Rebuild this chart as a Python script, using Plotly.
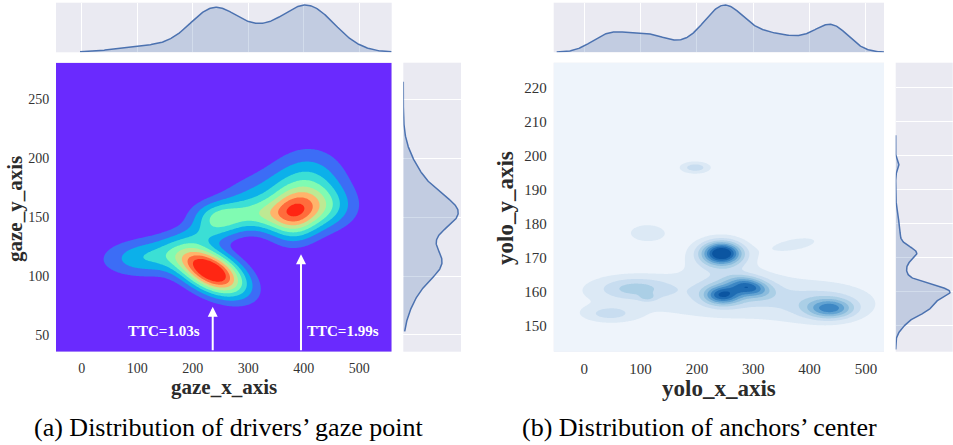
import numpy as np
import plotly.graph_objects as go

# ---------------- data ----------------
# Left panel: drivers' gaze point, 2-D density modes
# columns: centre x, centre y, sd x, sd y, correlation, peak weight
gaze_cx  = [233, 120, 380, 415, 410, 250, 325, 300, 225]
gaze_cy  = [104, 116, 150, 158, 178, 150, 152, 170, 136]
gaze_sx  = [42, 55, 30, 48, 45, 35, 35, 50, 38]
gaze_sy  = [14, 11, 15, 13, 20, 9, 10, 15, 8]
gaze_rho = [-0.5, 0.1, 0.0, 0.0, 0.0, 0.0, 0.0, 0.5, 0.2]
gaze_w   = [1.0, 0.30, 0.40, 0.36, 0.30, 0.36, 0.31, 0.15, 0.19]

# marginal modes for gaze x / gaze y
gaze_x_mc = [120, 240, 318, 405]
gaze_x_ms = [55, 45, 35, 50]
gaze_x_mw = [0.13, 0.93, 0.19, 1.0]
gaze_x_support = [-3, 558]
gaze_y_mc = [152, 178, 113, 90]
gaze_y_ms = [15, 20, 14, 18]
gaze_y_mw = [0.8, 0.3, 0.55, 0.2]
gaze_y_support = [53, 265]

gaze_x_ticks = [0, 100, 200, 300, 400, 500]
gaze_y_ticks = [50, 100, 150, 200, 250]
gaze_x_range = [-46.3, 558.4]
gaze_y_range = [35.8, 281.1]

ttc_labels = ["TTC=1.03s", "TTC=1.99s"]
ttc_arrow_x = [236, 395]
ttc_arrow_tip_y = [74, 118.5]
ttc_label_x = [148, 471]
ttc_label_y = [53, 53]

# Right panel: anchors' centre, 2-D density modes
yolo_cx  = [240, 244, 240, 245, 292, 270, 437, 415, 90, 45, 112, 197, 112, 375]
yolo_cy  = [158, 171.3, 170.5, 159, 161.5, 160, 155, 156.5, 161, 153.5, 158.3, 196.5, 177.3, 174]
yolo_sx  = [250, 24, 45, 22, 25, 55, 28, 55, 45, 30, 10, 20, 32, 35]
yolo_sy  = [7, 2.3, 4.5, 1.9, 2.0, 3.5, 2.0, 3.5, 2.3, 1.6, 0.8, 1.3, 2.5, 1.8]
yolo_rho = [0, 0, 0, 0, -0.3, 0, 0, 0, 0, 0, 0, 0, 0, 0.5]
yolo_w   = [0.13, 0.9, 0.15, 0.6, 0.55, 0.18, 0.5, 0.18, 0.28, 0.2, 0.15, 0.28, 0.16, 0.16]

yolo_x_mc = [40, 110, 200, 245, 300, 375, 440]
yolo_x_ms = [30, 45, 25, 32, 45, 40, 30]
yolo_x_mw = [0.27, 0.36, 0.1, 0.75, 0.35, 0.2, 0.5]
yolo_x_support = [-49, 532]
yolo_y_mc = [160, 155, 171.5, 167, 178, 197, 150.5]
yolo_y_ms = [2.2, 2.2, 1.8, 4, 4, 1.2, 2]
yolo_y_mw = [0.75, 0.45, 0.22, 0.15, 0.06, 0.05, 0.1]
yolo_y_support = [143, 206]

yolo_x_ticks = [0, 100, 200, 300, 400, 500]
yolo_y_ticks = [150, 160, 170, 180, 190, 200, 210, 220]
yolo_x_range = [-54.3, 532.1]
yolo_y_range = [142.35, 227.35]

captions = ["(a) Distribution of drivers\u2019 gaze point", "(b) Distribution of anchors\u2019 center"]
axis_titles = ["gaze_x_axis", "gaze_y_axis", "yolo_x_axis", "yolo_y_axis"]

# ---------------- styles ----------------
rainbow_bands = ['#6A2AFE', '#3C6DF6', '#0CB0EA', '#3BDFD5', '#80FBB2',
                 '#BEE993', '#FFB46B', '#FF6C3C', '#FF2613']
blues_bands = ['#EEF4FB', '#DCE9F5', '#C8DDF0', '#ABCFE6', '#8BBCDD',
               '#62A3D2', '#3D87C4', '#1F6CB3', '#0B55A1']
SERIF = "Liberation Serif"
LINE = '#4C72B0'
FILL = 'rgba(76,114,176,0.25)'
TOP_SCALE = 9.9   # density maximum in units of one contour step


def density2d(xs, ys, cx, cy, sx, sy, rho, w):
    X, Y = np.meshgrid(xs, ys)
    Z = np.zeros_like(X)
    for a, b, s, t, r, k in zip(cx, cy, sx, sy, rho, w):
        dx = (X - a) / s
        dy = (Y - b) / t
        q = (dx * dx - 2 * r * dx * dy + dy * dy) / (1 - r * r)
        Z += k * np.exp(-0.5 * q)
    return Z / Z.max() * TOP_SCALE


def density1d(v, c, s, w):
    d = np.zeros_like(v)
    for a, b, k in zip(c, s, w):
        d += k * np.exp(-0.5 * ((v - a) / b) ** 2)
    return d / d.max()


fig = go.Figure()

W, H = 953, 445
def px_dom(a, b, total, flip=False):
    if flip:
        return [1 - b / total, 1 - a / total]
    return [a / total, b / total]

L_x = px_dom(56, 391.7, W); L_y = px_dom(62.7, 351.7, H, True)
T_y = px_dom(2.7, 52.3, H, True)
LR_x = px_dom(403.3, 461, W)
R_x = px_dom(553.7, 884, W)
RR_x = px_dom(895.7, 952.7, W)


def add_panel(idx, cx, cy, sx, sy, rho, w, xr, yr, bands,
              xmc, xms, xmw, xsup, ymc, yms, ymw, ysup):
    xs = np.linspace(xr[0], xr[1], 340)
    ys = np.linspace(yr[0], yr[1], 340)
    Z = density2d(xs, ys, cx, cy, sx, sy, rho, w)
    n = len(bands)
    cscale = [[i / (n - 1), c] for i, c in enumerate(bands)]
    fig.add_trace(go.Contour(x=xs, y=ys, z=Z, xaxis=f"x{idx*3+1}", yaxis=f"y{idx*3+1}",
                             autocontour=False,
                             contours=dict(start=1, end=n - 1, size=1, coloring='fill', showlines=False),
                             colorscale=cscale, showscale=False, line_width=0, hoverinfo='skip'))
    xv = np.linspace(xsup[0], xsup[1], 400)
    fig.add_trace(go.Scatter(x=xv, y=density1d(xv, xmc, xms, xmw), mode='lines',
                             line=dict(color=LINE, width=1.5), fill='tozeroy', fillcolor=FILL,
                             xaxis=f"x{idx*3+2}", yaxis=f"y{idx*3+2}", hoverinfo='skip'))
    yv = np.linspace(ysup[0], ysup[1], 400)
    fig.add_trace(go.Scatter(x=density1d(yv, ymc, yms, ymw), y=yv, mode='lines',
                             line=dict(color=LINE, width=1.5), fill='tozerox', fillcolor=FILL,
                             xaxis=f"x{idx*3+3}", yaxis=f"y{idx*3+3}", hoverinfo='skip'))


add_panel(0, gaze_cx, gaze_cy, gaze_sx, gaze_sy, gaze_rho, gaze_w, gaze_x_range, gaze_y_range,
          rainbow_bands, gaze_x_mc, gaze_x_ms, gaze_x_mw, gaze_x_support,
          gaze_y_mc, gaze_y_ms, gaze_y_mw, gaze_y_support)
add_panel(1, yolo_cx, yolo_cy, yolo_sx, yolo_sy, yolo_rho, yolo_w, yolo_x_range, yolo_y_range,
          blues_bands, yolo_x_mc, yolo_x_ms, yolo_x_mw, yolo_x_support,
          yolo_y_mc, yolo_y_ms, yolo_y_mw, yolo_y_support)

tick_font_l = dict(family=SERIF, size=14, color='#333333')
tick_font_r = dict(family=SERIF, size=15, color='#333333')
common_main = dict(showgrid=False, zeroline=False, showline=False, ticks='outside', ticklen=3,
                   tickcolor='rgba(0,0,0,0)')
hidden = dict(showticklabels=False, ticks='', zeroline=False, showline=False)

layout = dict(
    width=W, height=H, margin=dict(l=0, r=0, t=0, b=0),
    paper_bgcolor='white', plot_bgcolor='#EAEAF2', showlegend=False,
    xaxis=dict(domain=L_x, range=gaze_x_range, tickvals=gaze_x_ticks, tickfont=tick_font_l,
               anchor='y', **common_main),
    yaxis=dict(domain=L_y, range=gaze_y_range, tickvals=gaze_y_ticks, tickfont=tick_font_l,
               anchor='x', **common_main),
    xaxis2=dict(domain=L_x, range=gaze_x_range, tickvals=gaze_x_ticks, showgrid=True,
                gridcolor='white', gridwidth=1, anchor='y2', **hidden),
    yaxis2=dict(domain=T_y, range=[0, 1.05], showgrid=False, anchor='x2', **hidden),
    xaxis3=dict(domain=LR_x, range=[0, 1.05], showgrid=False, anchor='y3', **hidden),
    yaxis3=dict(domain=L_y, range=gaze_y_range, tickvals=gaze_y_ticks, showgrid=True,
                gridcolor='white', gridwidth=1, anchor='x3', **hidden),
    xaxis4=dict(domain=R_x, range=yolo_x_range, tickvals=yolo_x_ticks, tickfont=tick_font_r,
                anchor='y4', **common_main),
    yaxis4=dict(domain=L_y, range=yolo_y_range, tickvals=yolo_y_ticks, tickfont=tick_font_r,
                anchor='x4', **common_main),
    xaxis5=dict(domain=R_x, range=yolo_x_range, tickvals=yolo_x_ticks, showgrid=True,
                gridcolor='white', gridwidth=1, anchor='y5', **hidden),
    yaxis5=dict(domain=T_y, range=[0, 1.05], showgrid=False, anchor='x5', **hidden),
    xaxis6=dict(domain=RR_x, range=[0, 1.05], showgrid=False, anchor='y6', **hidden),
    yaxis6=dict(domain=L_y, range=yolo_y_range, tickvals=yolo_y_ticks, showgrid=True,
                gridcolor='white', gridwidth=1, anchor='x6', **hidden),
)
fig.update_layout(**layout)

ann = []
for lx, tip in zip(ttc_arrow_x, ttc_arrow_tip_y):
    ann.append(dict(x=lx, y=tip, ax=lx, ay=gaze_y_range[0], xref='x', yref='y', axref='x', ayref='y',
                    text='', showarrow=True, arrowhead=2, arrowsize=1, arrowwidth=2, arrowcolor='white'))
for t, lx, ly in zip(ttc_labels, ttc_label_x, ttc_label_y):
    ann.append(dict(x=lx, y=ly, xref='x', yref='y', text=f"<b>{t}</b>", showarrow=False,
                    font=dict(family=SERIF, size=15, color='white')))
title_pos = [(224, 387, 0, 21), (15, 209, -90, 21), (719, 388, 0, 23), (505, 208, -90, 23)]
for t, (px, py, ang, fs) in zip(axis_titles, title_pos):
    ann.append(dict(x=px / W, y=1 - py / H, xref='paper', yref='paper', text=f"<b>{t}</b>",
                    showarrow=False, textangle=ang, xanchor='center', yanchor='middle',
                    font=dict(family=SERIF, size=fs, color='#2b2b2b')))
for t, px in zip(captions, [228.5, 699]):
    ann.append(dict(x=px / W, y=1 - 427 / H, xref='paper', yref='paper', text=t, showarrow=False,
                    xanchor='center', yanchor='middle', font=dict(family=SERIF, size=26, color='black')))
fig.update_layout(annotations=ann)

fig.write_html("out.html", config={'displayModeBar': False},
               post_script="document.body.style.margin='0px';document.body.style.padding='0px';")
